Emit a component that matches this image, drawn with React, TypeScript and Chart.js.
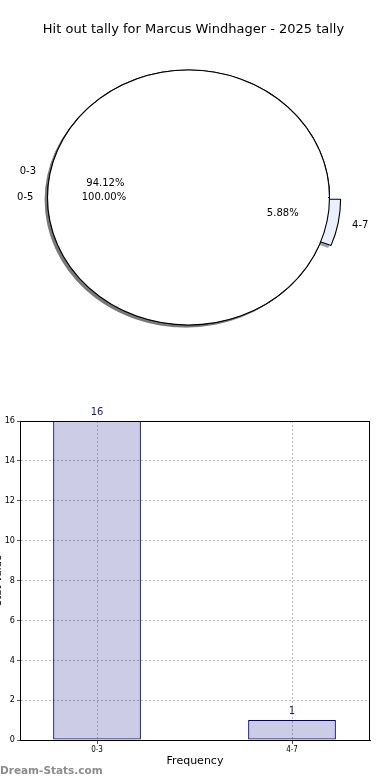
import React, { useEffect, useRef } from "react";
import { Chart, registerables } from "chart.js";

Chart.register(...registerables);

const CHART_TITLE = "Hit out tally for Marcus Windhager - 2025 tally";

// Pie: tally split by band (matplotlib draws counter-clockwise from 3 o'clock)
const pieLabels = ["0-3", "4-7"];
const pieValues = [16, 1];
const pieColors = ["#ffffff", "#eaf0ff"];
const pieExplode = [0, 0.08];

// Pie: overall band drawn on top
const totalLabels = ["0-5"];
const totalValues = [17];
const totalColors = ["#ffffff"];

// Bars
const barLabels = ["0-3", "4-7"];
const barValues = [16, 1];
const yTickValues = [0, 2, 4, 6, 8, 10, 12, 14, 16];
const X_TITLE = "Frequency";
const Y_TITLE = "Stat Value";
const WATERMARK = "Dream-Stats.com";

const FONT = "'DejaVu Sans', sans-serif";
const FONT_NARROW = "'Liberation Sans Narrow', 'DejaVu Sans Condensed', 'DejaVu Sans', sans-serif";

const GRID_COLOUR = "#bdbdbd";
const GRID_DASH = [2, 2];
const SHADOW_SHIFT = 0.02; // fraction of radius, toward lower-left

// matplotlib-style shadow colour: 0.3 x face colour at 50% alpha
const shadowColour = (hex: string) => {
  const n = parseInt(hex.slice(1), 16);
  const r = Math.round(((n >> 16) & 255) * 0.3);
  const g = Math.round(((n >> 8) & 255) * 0.3);
  const b = Math.round((n & 255) * 0.3);
  return `rgba(${r},${g},${b},0.5)`;
};

// dash that covers only the rim of a full-circle slice (hides the radial seam)
const rimDash = (chart: any) => {
  const a = chart.chartArea;
  if (!a) return [];
  return [Math.PI * (a.bottom - a.top) + 1, 100000];
};

const titleShift = {
  id: "titleShift",
  afterLayout(chart: any) {
    const t = chart.titleBlock;
    if (t) {
      t.left = 0;
      t.right = chart.width - 3;
      t.width = t.right - t.left;
    }
  },
};

const ellipsePie = {
  id: "ellipsePie",
  afterDatasetsUpdate(chart: any) {
    const a = chart.chartArea;
    const cx = (a.left + a.right) / 2;
    const cy = (a.top + a.bottom) / 2;
    const R = (a.bottom - a.top) / 2;
    chart.data.datasets.forEach((ds: any, di: number) => {
      const meta = chart.getDatasetMeta(di);
      const sh = ds.isShadow ? SHADOW_SHIFT * R : 0;
      meta.data.forEach((arc: any, i: number) => {
        const mid = (arc.startAngle + arc.endAngle) / 2;
        const ex = ((ds.explode && ds.explode[i]) || 0) * R;
        arc.x = cx + Math.cos(mid) * ex - sh;
        arc.y = cy + Math.sin(mid) * ex + sh;
        arc.innerRadius = 0;
        arc.outerRadius = R;
        arc.$mid = mid;
        arc.$ex = ex;
      });
    });
  },
  beforeDatasetsDraw(chart: any) {
    const { ctx } = chart;
    const a = chart.chartArea;
    const cx = (a.left + a.right) / 2;
    const cy = (a.top + a.bottom) / 2;
    const sx = (a.right - a.left) / (a.bottom - a.top);
    ctx.save();
    ctx.translate(cx, cy);
    ctx.scale(sx, 1);
    ctx.translate(-cx, -cy);
  },
  beforeDatasetDraw(chart: any, args: any) {
    const ds = chart.data.datasets[args.index];
    if (ds.rimOnly) chart.ctx.setLineDash(rimDash(chart));
  },
  afterDatasetDraw(chart: any) {
    chart.ctx.setLineDash([]);
  },
  afterDatasetsDraw(chart: any) {
    const { ctx } = chart;
    ctx.restore();
    const a = chart.chartArea;
    const cx = (a.left + a.right) / 2;
    const cy = (a.top + a.bottom) / 2;
    const R = (a.bottom - a.top) / 2;
    const sx = (a.right - a.left) / (a.bottom - a.top);
    ctx.save();
    ctx.font = `10px ${FONT}`;
    ctx.fillStyle = "#000";
    ctx.textBaseline = "middle";
    chart.data.datasets.forEach((ds: any, di: number) => {
      if (ds.isShadow) return;
      const meta = chart.getDatasetMeta(di);
      const total = ds.data.reduce((s: number, v: number) => s + v, 0);
      meta.data.forEach((arc: any, i: number) => {
        const c = Math.cos(arc.$mid);
        const s = Math.sin(arc.$mid);
        const ex = arc.$ex;
        ctx.textAlign = c >= 0 ? "left" : "right";
        ctx.fillText(ds.sliceLabels[i], cx + (1.1 * R + ex) * c * sx, cy + (1.1 * R + ex) * s);
        ctx.textAlign = "center";
        const pct = ((ds.data[i] / total) * 100).toFixed(2) + "%";
        ctx.fillText(pct, cx + (0.6 * R + ex) * c * sx, cy + (0.6 * R + ex) * s);
      });
    });
    ctx.restore();
  },
};

const barValueLabels = {
  id: "barValueLabels",
  afterDatasetsDraw(chart: any) {
    const { ctx } = chart;
    ctx.save();
    ctx.font = `10px ${FONT}`;
    ctx.fillStyle = "#1a1a80";
    ctx.textAlign = "center";
    ctx.textBaseline = "middle";
    chart.getDatasetMeta(0).data.forEach((el: any, i: number) => {
      ctx.fillText(String(barValues[i]), el.x, el.y - 9);
    });
    ctx.restore();
  },
};

const frame = {
  id: "frame",
  afterDraw(chart: any) {
    const { ctx } = chart;
    const a = chart.chartArea;
    const l = Math.round(a.left) + 0.5;
    const t = Math.round(a.top) + 0.5;
    const r = Math.round(a.right) - 0.5;
    const b = Math.round(a.bottom) + 0.5;
    ctx.save();
    ctx.strokeStyle = "#000";
    ctx.lineWidth = 1;
    ctx.strokeRect(l, t, r - l, b - t);
    ctx.restore();
  },
};

export default function App() {
  const pieRef = useRef<HTMLCanvasElement | null>(null);
  const barRef = useRef<HTMLCanvasElement | null>(null);

  useEffect(() => {
    const tallyValues = [...pieValues].reverse();
    const tallyLabels = [...pieLabels].reverse();
    const tallyExplode = [...pieExplode].reverse();
    const tallyColors = [...pieColors].reverse();

    const pie = new Chart(pieRef.current as HTMLCanvasElement, {
      type: "pie",
      data: {
        labels: tallyLabels,
        datasets: [
          {
            label: "total",
            data: totalValues,
            sliceLabels: totalLabels,
            explode: [0],
            rimOnly: true,
            backgroundColor: totalColors,
            borderColor: "#000",
            borderWidth: 1,
            borderDash: (c: any) => rimDash(c.chart),
            clip: false,
          } as any,
          {
            label: "total shadow",
            data: totalValues,
            isShadow: true,
            explode: [0],
            backgroundColor: totalColors.map(shadowColour),
            borderWidth: 0,
            clip: false,
          } as any,
          {
            label: "tally",
            data: tallyValues,
            sliceLabels: tallyLabels,
            explode: tallyExplode,
            backgroundColor: tallyColors,
            borderColor: "#000",
            borderWidth: 1,
            clip: false,
          } as any,
          {
            label: "tally shadow",
            data: tallyValues,
            isShadow: true,
            explode: tallyExplode,
            backgroundColor: tallyColors.map(shadowColour),
            borderWidth: 0,
            clip: false,
          } as any,
        ],
      },
      options: {
        responsive: false,
        animation: false,
        events: [],
        rotation: 90,
        layout: { padding: { left: 47.5, right: 60.5, top: 0, bottom: 70 } },
        plugins: {
          legend: { display: false },
          tooltip: { enabled: false },
          title: {
            display: true,
            text: CHART_TITLE,
            color: "#000",
            font: { family: FONT, size: 13, weight: "normal" },
            padding: { top: 22, bottom: 32.4 },
          },
        },
      } as any,
      plugins: [titleShift, ellipsePie],
    });

    const bar = new Chart(barRef.current as HTMLCanvasElement, {
      type: "bar",
      data: {
        datasets: [
          {
            data: barValues.map((v, i) => ({ x: i, y: v })),
            backgroundColor: "rgba(0,0,128,0.2)",
            borderColor: "#000080",
            borderWidth: 1,
            borderSkipped: false,
            barPercentage: 0.45,
            categoryPercentage: 1,
          } as any,
        ],
      },
      options: {
        responsive: false,
        animation: false,
        events: [],
        layout: { padding: { left: 0, right: 20, top: 26, bottom: 0 } },
        plugins: { legend: { display: false }, tooltip: { enabled: false } },
        scales: {
          x: {
            type: "linear",
            min: -0.395,
            max: 1.4,
            offset: false,
            afterBuildTicks: (s: any) => {
              s.ticks = barLabels.map((_, i) => ({ value: i }));
            },
            afterFit: (s: any) => {
              s.height = 40;
            },
            ticks: {
              callback: (v: any) => barLabels[v] ?? "",
              font: { family: FONT_NARROW, size: 8 },
              color: "#000",
              padding: 1,
              maxRotation: 0,
              autoSkip: false,
            },
            grid: {
              offset: false,
              color: GRID_COLOUR,
              lineWidth: 1,
              drawTicks: true,
              tickLength: 4,
              tickColor: "#555",
              tickBorderDash: [],
              tickWidth: 1,
            },
            border: { display: true, color: "#000", width: 1, dash: GRID_DASH },
            title: {
              display: true,
              text: X_TITLE,
              color: "#000",
              font: { family: FONT, size: 11 },
              padding: { top: 0, bottom: 12.4 },
            },
          },
          y: {
            type: "linear",
            min: 0,
            max: 16,
            afterBuildTicks: (s: any) => {
              s.ticks = yTickValues.map((v) => ({ value: v }));
            },
            afterFit: (s: any) => {
              s.width = 28;
            },
            ticks: {
              font: { family: FONT_NARROW, size: 9 },
              color: "#000",
              padding: 2,
            },
            grid: {
              color: GRID_COLOUR,
              lineWidth: 1,
              drawTicks: true,
              tickLength: 3,
              tickColor: "#555",
              tickBorderDash: [],
              tickWidth: 1,
            },
            border: { display: true, color: "#000", width: 1, dash: GRID_DASH },
            title: {
              display: true,
              text: Y_TITLE,
              color: "#000",
              font: { family: FONT, size: 10 },
              padding: { top: 0, bottom: 0 },
            },
          },
        },
      } as any,
      plugins: [barValueLabels, frame],
    });

    return () => {
      pie.destroy();
      bar.destroy();
    };
  }, []);

  return (
    <div
      style={{
        position: "fixed",
        left: 0,
        top: 0,
        width: 390,
        height: 780,
        overflow: "hidden",
        background: "#ffffff",
      }}
    >
      <canvas
        ref={pieRef}
        width={390}
        height={395}
        style={{ position: "absolute", left: 0, top: 0, width: 390, height: 395 }}
      />
      <canvas
        ref={barRef}
        width={398}
        height={385}
        style={{ position: "absolute", left: -8, top: 395, width: 398, height: 385 }}
      />
      <div
        style={{
          position: "absolute",
          left: 0,
          top: 763,
          fontFamily: FONT,
          fontSize: 10.5,
          fontWeight: "bold",
          color: "#8c8c8c",
          lineHeight: "14px",
          whiteSpace: "nowrap",
        }}
      >
        {WATERMARK}
      </div>
    </div>
  );
}
